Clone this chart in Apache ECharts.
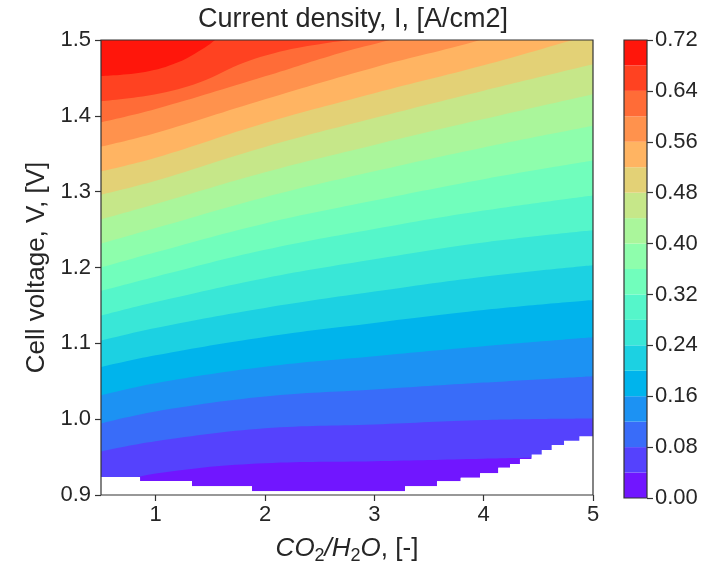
<!DOCTYPE html>
<html>
<head>
<meta charset="utf-8">
<script src="https://cdn.jsdelivr.net/npm/echarts@6/dist/echarts.min.js"></script>
<style>html,body{margin:0;padding:0;background:#fff}#c{width:712px;height:570px}</style>
</head>
<body>
<div id="c"></div>
<script>
// ---- data ----
const xTicks = [1, 2, 3, 4, 5];
const yTicks = [0.9, 1.0, 1.1, 1.2, 1.3, 1.4, 1.5];
const levels = [0, 0.04, 0.08, 0.12, 0.16, 0.20, 0.24, 0.28, 0.32, 0.36, 0.40, 0.44, 0.48, 0.52, 0.56, 0.60, 0.64, 0.68, 0.72];

// lower edge of the computed region (below it: no data), [CO2/H2O, V]
const noData = [[0.5,0.9236],[0.857,0.9184],[1.332,0.9114],[1.881,0.9048],[3.281,0.9114],[3.573,0.9180],[3.790,0.9227],[3.967,0.9288],[4.134,0.9358],[4.241,0.9410],[4.332,0.9476],[4.439,0.9534],[4.531,0.9594],[4.622,0.9660],[4.735,0.9717],[4.875,0.9774],[5.0,0.9774]];
// contour lines: cell voltage at which the current density equals the level
const c004 = [[0.5,0.9105],[1,0.9282],[2,0.9420],[3,0.9446],[4,0.9479],[5,0.9511]];
const c008 = [[0.5,0.9573],[1,0.9708],[2,0.9879],[3,0.9931],[4,0.9990],[5,1.0010]];
const c012 = [[0.5,0.9944],[1,1.0102],[2,1.0298],[3,1.0390],[4,1.0482],[5,1.0567]];
const c016 = [[0.5,1.0315],[1,1.0475],[2,1.0692],[3,1.0830],[4,1.0961],[5,1.1079]];
const c020 = [[0.5,1.0688],[1,1.0843],[2,1.1085],[3,1.1269],[4,1.1439],[5,1.1570]];
const c024 = [[0.5,1.1037],[1,1.1203],[2,1.1466],[3,1.1682],[4,1.1879],[5,1.2030]];
const c028 = [[0.5,1.1365],[1,1.1544],[2,1.1859],[3,1.2108],[4,1.2331],[5,1.2492]];
const c032 = [[0.5,1.1692],[1,1.1879],[2,1.2233],[3,1.2508],[4,1.2751],[5,1.2951]];
const c036 = [[0.5,1.1999],[1,1.2200],[2,1.2580],[3,1.2882],[4,1.3164],[5,1.3410]];
const c040 = [[0.5,1.2314],[1,1.2521],[2,1.2928],[3,1.3269],[4,1.3584],[5,1.3870]];
const c044 = [[0.5,1.2633],[1,1.2836],[2,1.3256],[3,1.3616],[4,1.3957],[5,1.4285]];
const c048 = [[0.5,1.2961],[1,1.3144],[2,1.3590],[3,1.3970],[4,1.4331],[5,1.4679]];
const c052 = [[0.5,1.3266],[1,1.3446],[2,1.3905],[3,1.4298],[4,1.4666],[4.817,1.5],[5,1.5072]];
const c056 = [[0.5,1.3594],[1,1.3774],[2,1.4220],[3,1.4639],[3.967,1.5],[5,1.5466]];
const c060 = [[0.5,1.3914],[1,1.4089],[2,1.4521],[2.686,1.4830],[3.143,1.5],[4,1.5334],[5,1.5793]];
const c064 = [[0.5,1.4193],[1,1.4285],[1.405,1.4443],[1.817,1.4705],[2.183,1.4862],[2.595,1.4967],[2.777,1.5],[3.418,1.5138],[5,1.5531]];
const c068 = [[0.5,1.4525],[0.902,1.4578],[1.204,1.4705],[1.451,1.4902],[1.543,1.5],[1.771,1.5269],[5,1.6843]];

const contours = [c004, c008, c012, c016, c020, c024, c028, c032, c036, c040, c044, c048, c052, c056, c060, c064, c068];

// ---- style ----
const bandColors = ['#7116ff','#5542fd','#396cf9','#1c92f3','#00b4ec','#1cd1e2','#39e7d7','#55f6ca','#71febc','#8efeac','#aaf69b','#c6e789','#e3d176','#ffb462','#ff924d','#ff6c37','#ff4221','#ff160b'];
const FONT = '"Liberation Sans", Arial, Helvetica, sans-serif';
const TXT = '#262626';
const FRAME = '#333333';

const series = [];
// lowest band: from the edge of the computed region up to the top
series.push({
  type: 'line', xAxisIndex: 0, yAxisIndex: 0, data: noData, step: 'end',
  showSymbol: false, silent: true, lineStyle: {width: 0},
  areaStyle: {color: bandColors[0], opacity: 1, origin: 'end'}
});
contours.forEach((c, i) => {
  series.push({
    type: 'line', xAxisIndex: 0, yAxisIndex: 0, data: c, smooth: 0.4,
    showSymbol: false, silent: true, lineStyle: {width: 0},
    areaStyle: {color: bandColors[i + 1], opacity: 1, origin: 'end'}
  });
});
// blank (no data) region
series.push({
  type: 'line', xAxisIndex: 0, yAxisIndex: 0, data: noData, step: 'end',
  showSymbol: false, silent: true, lineStyle: {width: 0},
  areaStyle: {color: '#ffffff', opacity: 1, origin: 'start'}
});
// colour bar
for (let k = 0; k < levels.length - 1; k++) {
  series.push({
    type: 'bar', xAxisIndex: 1, yAxisIndex: 1, stack: 'cb', silent: true,
    data: [levels[k + 1] - levels[k]], barWidth: '100%',
    itemStyle: {color: bandColors[k]}
  });
}

const chart = echarts.init(document.getElementById('c'), null, {renderer: 'canvas'});
chart.setOption({
  animation: false,
  backgroundColor: '#ffffff',
  title: {
    text: 'Current density, I, [A/cm2]', left: 348, top: 1, textAlign: 'center',
    textStyle: {fontFamily: FONT, fontSize: 27, fontWeight: 'normal', color: TXT}
  },
  grid: [
    {left: 101, top: 40, width: 492, height: 458, show: true, z: 10, borderColor: FRAME, borderWidth: 1.2, backgroundColor: 'transparent'},
    {left: 624, top: 40, width: 23, height: 458, show: true, z: 10, borderColor: FRAME, borderWidth: 1.2, backgroundColor: 'transparent'}
  ],
  xAxis: [
    {
      type: 'value', gridIndex: 0, min: 0.5, max: 5,
      axisLine: {show: false}, splitLine: {show: false},
      axisTick: {show: true, length: 6, customValues: xTicks, lineStyle: {color: FRAME, width: 1.2}},
      axisLabel: {customValues: xTicks, formatter: v => String(v), fontFamily: FONT, fontSize: 22, color: TXT, margin: 9},
      name: '{i|CO}{s|2}{i|/H}{s|2}{i|O}{n|, [-]}', nameLocation: 'middle', nameGap: 38,
      nameTextStyle: {
        rich: {
          i: {fontFamily: FONT, fontSize: 26, fontStyle: 'italic', color: TXT, lineHeight: 32},
          s: {fontFamily: FONT, fontSize: 18, color: TXT, lineHeight: 32, verticalAlign: 'bottom'},
          n: {fontFamily: FONT, fontSize: 26, color: TXT, lineHeight: 32}
        }
      }
    },
    {type: 'category', gridIndex: 1, data: [''], show: false}
  ],
  yAxis: [
    {
      type: 'value', gridIndex: 0, min: 0.9, max: 1.5,
      axisLine: {show: false}, splitLine: {show: false},
      axisTick: {show: true, length: 6, customValues: yTicks, lineStyle: {color: FRAME, width: 1.2}},
      axisLabel: {customValues: yTicks, formatter: v => v.toFixed(1), fontFamily: FONT, fontSize: 22, color: TXT, margin: 10},
      name: 'Cell voltage, V, [V]', nameLocation: 'middle', nameGap: 51,
      nameTextStyle: {fontFamily: FONT, fontSize: 26, color: TXT}
    },
    {
      type: 'value', gridIndex: 1, position: 'right', min: 0, max: 0.72, interval: 0.08,
      axisLine: {show: false}, splitLine: {show: false},
      axisTick: {show: true, length: 6, lineStyle: {color: FRAME, width: 1.2}},
      axisLabel: {formatter: v => v.toFixed(2), fontFamily: FONT, fontSize: 22, color: TXT, margin: 8}
    }
  ],
  series: series
});
</script>
</body>
</html>
